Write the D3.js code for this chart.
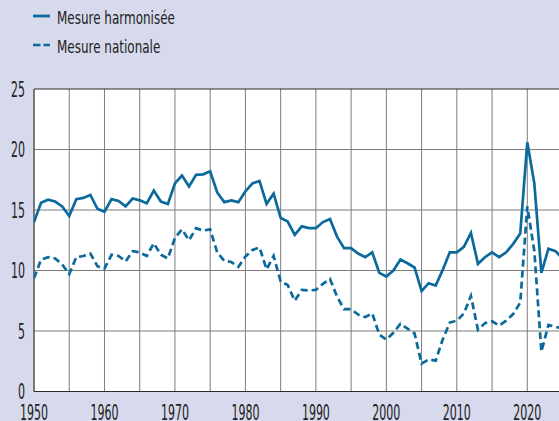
<!DOCTYPE html>
<html>
<head>
<meta charset="utf-8">
<script src="https://cdn.jsdelivr.net/npm/d3@7/dist/d3.min.js"></script>
<style>
  html, body { margin: 0; padding: 0; background: #d6daec; }
  svg { display: block; }
  text { font-family: 'Liberation Sans Narrow', 'DejaVu Sans Condensed', 'Roboto', sans-serif; fill: #222; }
</style>
</head>
<body>
<script>
/* global d3 */
// Taux (en %) par annee, 1950-2025
var years = d3.range(1950, 2026)

var harmonisee = [
  14.0, 15.6, 15.85, 15.7, 15.3, 14.5, 15.9, 16.0, 16.25, 15.1,
  14.85, 15.9, 15.75, 15.3, 15.95, 15.8, 15.55, 16.6, 15.7, 15.5,
  17.2, 17.85, 16.95, 17.9, 17.95, 18.2, 16.45, 15.65, 15.8, 15.65,
  16.55, 17.2, 17.4, 15.5, 16.35, 14.35, 14.05, 12.95, 13.65, 13.5,
  13.5, 14.0, 14.25, 12.8, 11.85, 11.85, 11.4, 11.1, 11.5, 9.8,
  9.5, 10.0, 10.9, 10.6, 10.25, 8.3, 8.95, 8.75, 10.05, 11.5,
  11.5, 11.95, 13.1, 10.55, 11.1, 11.5, 11.1, 11.5, 12.2, 13.05,
  20.6, 17.2, 9.8, 11.8, 11.6, 11.0
]

var nationale = [
  9.35, 10.9, 11.1, 11.0, 10.5, 9.7, 11.1, 11.2, 11.4, 10.35,
  10.15, 11.3, 11.2, 10.75, 11.6, 11.5, 11.2, 12.25, 11.3, 11.0,
  12.7, 13.4, 12.5, 13.5, 13.3, 13.4, 11.5, 10.8, 10.7, 10.3,
  11.15, 11.7, 11.9, 10.1, 11.2, 9.1, 8.8, 7.5, 8.4, 8.35,
  8.4, 8.9, 9.3, 7.85, 6.8, 6.8, 6.35, 6.15, 6.45, 4.7,
  4.3, 4.85, 5.6, 5.2, 4.8, 2.3, 2.65, 2.55, 4.3, 5.7,
  5.85, 6.45, 7.9, 5.1, 5.65, 5.8, 5.45, 5.85, 6.4, 7.35,
  15.3, 11.6, 3.3, 5.5, 5.35, 5.2
]

var yTicks = [0, 5, 10, 15, 20, 25]
var xTicks = [1950, 1960, 1970, 1980, 1990, 2000, 2010, 2020]
var xGrid = d3.range(1955, 2025, 5)
var seriesNames = ['Mesure harmonisée', 'Mesure nationale']

;(function () {
  'use strict'

  var W = 559
  var H = 421
  var plot = { left: 34, right: 559, top: 89, bottom: 391.5 }
  var blue = '#0b6a9b'

  var svg = d3.select('body').append('svg')
    .attr('width', W)
    .attr('height', H)

  var x = d3.scaleLinear().domain([1950, 2024.5]).range([plot.left, plot.right])
  var y = d3.scaleLinear().domain([0, 25]).range([plot.bottom, plot.top])

  // plot background
  svg.append('rect')
    .attr('x', plot.left)
    .attr('y', plot.top)
    .attr('width', plot.right - plot.left)
    .attr('height', plot.bottom - plot.top)
    .attr('fill', '#fff')

  // grid
  var grid = svg.append('g').attr('class', 'grid')
    .attr('stroke', '#7d7d7d')
    .attr('stroke-width', 1)

  grid.selectAll('.gx').data(xGrid)
    .enter().append('line')
      .attr('x1', function (d) { return x(d) })
      .attr('x2', function (d) { return x(d) })
      .attr('y1', plot.top)
      .attr('y2', plot.bottom)

  grid.selectAll('.gy').data(yTicks.slice(1, -1))
    .enter().append('line')
      .attr('x1', plot.left)
      .attr('x2', plot.right)
      .attr('y1', function (d) { return y(d) })
      .attr('y2', function (d) { return y(d) })

  // frame : left, bottom, top
  var frame = svg.append('g').attr('stroke', '#2a2a2a').attr('stroke-width', 1.2)
  frame.append('line')
    .attr('x1', plot.left).attr('x2', plot.left)
    .attr('y1', plot.top).attr('y2', plot.bottom)
  frame.append('line')
    .attr('x1', plot.left).attr('x2', plot.right)
    .attr('y1', plot.bottom).attr('y2', plot.bottom)
  frame.append('line')
    .attr('x1', plot.left).attr('x2', plot.right)
    .attr('y1', plot.top).attr('y2', plot.top)

  // lines
  svg.append('clipPath').attr('id', 'clip')
    .append('rect')
      .attr('x', plot.left)
      .attr('y', plot.top - 5)
      .attr('width', plot.right - plot.left)
      .attr('height', plot.bottom - plot.top + 10)

  var line = d3.line()
    .x(function (d) { return x(d[0]) })
    .y(function (d) { return y(d[1]) })

  var chart = svg.append('g').attr('clip-path', 'url(#clip)')

  chart.append('path')
    .datum(d3.zip(years, nationale))
    .attr('d', line)
    .attr('fill', 'none')
    .attr('stroke', blue)
    .attr('stroke-width', 2.7)
    .attr('stroke-dasharray', '7,4')

  chart.append('path')
    .datum(d3.zip(years, harmonisee))
    .attr('d', line)
    .attr('fill', 'none')
    .attr('stroke', blue)
    .attr('stroke-width', 2.7)

  // axis labels (condensed: squeezed to the reference width)
  var yLab = svg.append('g').attr('font-size', 21)
  yLab.selectAll('text').data(yTicks)
    .enter().append('text')
      .attr('text-anchor', 'end')
      .text(function (d) { return d })

  var xLab = svg.append('g').attr('font-size', 21)
  xLab.selectAll('text').data(xTicks)
    .enter().append('text')
      .attr('text-anchor', 'middle')
      .text(function (d) { return d })

  var sx = squeeze(xLab.selectAll('text').filter(function (d) { return d === 2000 }), 28)
  xLab.selectAll('text').attr('transform', function (d) {
    return 'translate(' + x(d) + ',419.5) scale(' + sx + ',1)'
  })
  yLab.selectAll('text').attr('transform', function (d) {
    return 'translate(25,' + (y(d) + 7.5) + ') scale(' + sx + ',1)'
  })

  // legend
  var legend = svg.append('g').attr('class', 'legend')
  var rows = legend.selectAll('g').data(seriesNames)
    .enter().append('g')
      .attr('transform', function (d, i) { return 'translate(0,' + (16 + i * 29) + ')' })

  rows.append('line')
    .attr('x1', 33).attr('x2', 50)
    .attr('y1', 0).attr('y2', 0)
    .attr('stroke', blue)
    .attr('stroke-width', 2.7)
    .attr('stroke-dasharray', function (d, i) { return i ? '7.5,3' : null })

  rows.append('text')
    .attr('font-size', 18.5)
    .text(function (d) { return d })

  var sl = squeeze(rows.selectAll('text').filter(function (d, i) { return d === seriesNames[0] }), 118)
  rows.selectAll('text').attr('transform', 'translate(57,7.5) scale(' + sl + ',1)')

  function squeeze (sel, target) {
    var node = sel.node()
    var w = node ? node.getComputedTextLength() : 0
    return w ? target / w : 1
  }
}())
</script>
</body>
</html>
